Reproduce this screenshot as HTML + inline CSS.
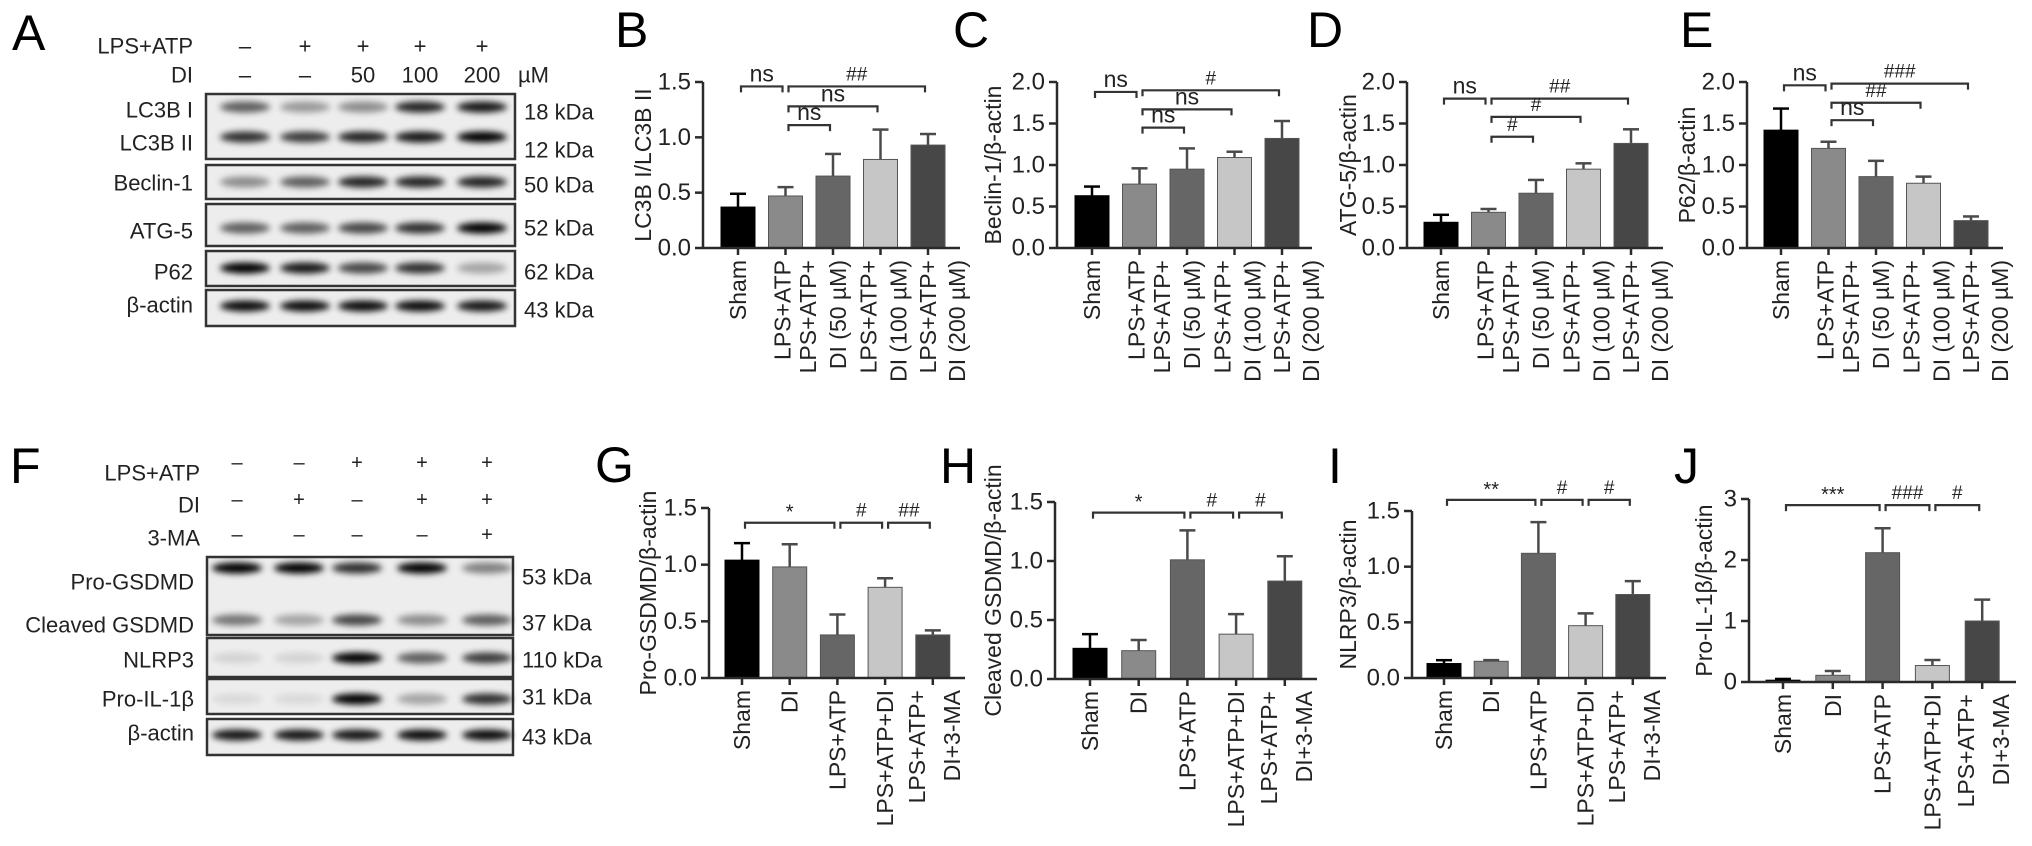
<!DOCTYPE html>
<html><head><meta charset="utf-8"><style>
html,body{margin:0;padding:0;background:#fff;}
svg{display:block;font-family:"Liberation Sans",Arial,sans-serif;}
</style></head><body>
<svg id="fig" width="2032" height="846" viewBox="0 0 2032 846" xmlns="http://www.w3.org/2000/svg">
<defs><filter id="blur" x="-30%" y="-100%" width="160%" height="300%"><feGaussianBlur stdDeviation="3.2"/></filter></defs>
</svg>
<script>
// ---- data ----
const catTop = [["Sham"],["LPS+ATP"],["LPS+ATP+","DI (50 µM)"],["LPS+ATP+","DI (100 µM)"],["LPS+ATP+","DI (200 µM)"]];
const catBottom = [["Sham"],["DI"],["LPS+ATP"],["LPS+ATP+DI"],["LPS+ATP+","DI+3-MA"]];
const barColors = ["#000000","#8a8a8a","#666666","#c6c6c6","#474747"];
const ticks15 = [0,0.5,1.0,1.5];
const ticks20 = [0,0.5,1.0,1.5,2.0];
const ticks3 = [0,1,2,3];
const bValues = [0.37,0.47,0.65,0.80,0.93];
const bErrors = [0.12,0.08,0.20,0.27,0.10];
const cValues = [0.63,0.77,0.95,1.09,1.32];
const cErrors = [0.11,0.19,0.25,0.07,0.21];
const dValues = [0.31,0.43,0.66,0.95,1.26];
const dErrors = [0.09,0.04,0.16,0.07,0.17];
const eValues = [1.42,1.20,0.86,0.78,0.33];
const eErrors = [0.26,0.08,0.19,0.08,0.05];
const gValues = [1.04,0.98,0.38,0.80,0.38];
const gErrors = [0.15,0.20,0.18,0.08,0.04];
const hValues = [0.26,0.24,1.01,0.38,0.83];
const hErrors = [0.12,0.09,0.25,0.17,0.21];
const iValues = [0.13,0.15,1.12,0.47,0.75];
const iErrors = [0.03,0.01,0.28,0.11,0.12];
const jValues = [0.03,0.11,2.12,0.27,1.00];
const jErrors = [0.02,0.07,0.40,0.09,0.35];
// brackets: [fromIndex, toIndex, level(value units), label]
const bBrackets = [[0,1,1.46,"ns"],[1,4,1.46,"##"],[1,3,1.28,"ns"],[1,2,1.11,"ns"]];
const cBrackets = [[0,1,1.88,"ns"],[1,4,1.90,"#"],[1,3,1.67,"ns"],[1,2,1.45,"ns"]];
const dBrackets = [[0,1,1.80,"ns"],[1,4,1.80,"##"],[1,3,1.58,"#"],[1,2,1.34,"#"]];
const eBrackets = [[0,1,1.96,"ns"],[1,4,1.98,"###"],[1,3,1.75,"##"],[1,2,1.54,"ns"]];
const gBrackets = [[0,2,1.37,"*"],[2,3,1.37,"#"],[3,4,1.37,"##"]];
const hBrackets = [[0,2,1.41,"*"],[2,3,1.41,"#"],[3,4,1.41,"#"]];
const iBrackets = [[0,2,1.60,"**"],[2,3,1.60,"#"],[3,4,1.60,"#"]];
const jBrackets = [[0,2,2.90,"***"],[2,3,2.90,"###"],[3,4,2.90,"#"]];
// blot band intensities (per lane)
const aBands = [[0.6,0.35,0.4,0.85,0.9],[0.8,0.75,0.85,0.9,1.0],[0.4,0.6,0.85,0.85,0.85],[0.6,0.6,0.7,0.8,1.0],[1.0,0.9,0.7,0.8,0.3],[0.95,0.95,0.95,0.95,0.9]];
const aKda = ["18 kDa","12 kDa","50 kDa","52 kDa","62 kDa","43 kDa"];
const fBands = [[1.0,1.0,0.8,1.0,0.45],[0.5,0.3,0.7,0.4,0.6],[0.1,0.1,1.0,0.6,0.75],[0.08,0.08,1.0,0.3,0.8],[0.9,0.9,0.9,0.95,0.95]];
const fKda = ["53 kDa","37 kDa","110 kDa","31 kDa","43 kDa"];

// label line offsets (layout)
const topLabelOffsets = [[0],[-3],[-25,5],[-12,18],[0,29]];
const bottomLabelOffsets = [[0],[0],[0],[0],[-16,19]];

// ---- helpers ----
const svg = document.getElementById('fig');
const NS = 'http://www.w3.org/2000/svg';
function mk(tag, attrs, parent){
  const e = document.createElementNS(NS, tag);
  for (const k in attrs) e.setAttribute(k, attrs[k]);
  (parent||svg).appendChild(e);
  return e;
}
function txt(s, attrs, parent){ const t = mk('text', attrs, parent); t.textContent = s; return t; }
const INK = '#2a2a2a';

function panelLetter(ch, x, y){
  const t = txt(ch, {x:x, y:y, 'font-size':50, fill:'#000'});
  
  
}

function chart(id, cfg, cats, values, errors, brackets, ticks){
  const g = mk('g', {});
  
  
  const maxV = ticks[ticks.length-1];
  const y = v => cfg.y0 - (v/maxV)*(cfg.y0-cfg.yTop);
  const xc = i => cfg.x0 + i*cfg.step;
  values.forEach((v,i)=>{
    const top = y(v+errors[i]);
    const eb = mk('line', {x1:xc(i), x2:xc(i), y1:y(v), y2:top, stroke: i===0?'#000':'#4a4a4a', 'stroke-width':2.5}, g);
    
    
    const cap = mk('line', {x1:xc(i)-8, x2:xc(i)+8, y1:top, y2:top, stroke: i===0?'#000':'#4a4a4a', 'stroke-width':2.5}, g);
    
    
    const r = mk('rect', {x:xc(i)-17, y:y(v), width:34, height:cfg.y0-y(v), fill:barColors[i], stroke:i===0?'#000':'#555', 'stroke-width':1}, g);
    
    
  });
  const ya = mk('line', {x1:cfg.ax, x2:cfg.ax, y1:cfg.yTop, y2:cfg.y0, stroke:INK, 'stroke-width':2.5}, g);
  
  
  ticks.forEach(t=>{
    mk('line', {x1:cfg.ax-8, x2:cfg.ax, y1:y(t), y2:y(t), stroke:INK, 'stroke-width':2.5}, g);
    const tl = txt(cfg.dec ? t.toFixed(1) : String(t), {x:cfg.ax-12, y:y(t), 'text-anchor':'end', 'dominant-baseline':'central', 'font-size':24, fill:'#222'}, g);
    
    
  });
  const xa = mk('line', {x1:cfg.ax, x2:cfg.xEnd, y1:cfg.y0, y2:cfg.y0, stroke:INK, 'stroke-width':2.5}, g);
  
  
  cats.forEach((c,i)=>{
    mk('line', {x1:xc(i), x2:xc(i), y1:cfg.y0, y2:cfg.y0+7, stroke:INK, 'stroke-width':2.5}, g);
    const offs = cfg.offs[i];
    c.forEach((line,k)=>{
      const lx = xc(i)+offs[k], ly = cfg.y0+12;
      const t = txt(line, {x:lx, y:ly, 'text-anchor':'end', 'dominant-baseline':'central', 'font-size':23, fill:'#222', transform:`rotate(-90 ${lx} ${ly})`}, g);
      
      
    });
  });
  const my = (cfg.y0+cfg.yTop)/2;
  const yt = txt(cfg.title, {x:cfg.tx, y:my, 'text-anchor':'middle', 'dominant-baseline':'central', 'font-size':23, fill:'#222', transform:`rotate(-90 ${cfg.tx} ${my})`}, g);
  
  
  brackets.forEach(b=>{
    const x1 = xc(b[0])+3, x2 = xc(b[1])-3, by = y(b[2]);
    const p = mk('path', {d:`M${x1},${by+6} L${x1},${by} L${x2},${by} L${x2},${by+6}`, fill:'none', stroke:'#333', 'stroke-width':2.2}, g);
    
    
    const isNs = b[3]==='ns';
    const lab = txt(b[3], {x:(x1+x2)/2, y: isNs ? by-5 : (b[3][0]==='*' ? by-4 : by-6), 'text-anchor':'middle', 'font-size': isNs?23:(b[3][0]==='*'?20:19), fill:'#222'}, g);
    
    
  });
}

function blot(id, lanes, boxes, labels, bandY, bands, kda, kdaY, bx1, bx2){
  const g = mk('g', {});
  
  
  boxes.forEach(b=>{
    const r = mk('rect', {x:bx1, y:b[0], width:bx2-bx1, height:b[1]-b[0], fill:'#ededed', stroke:'#333', 'stroke-width':2.5}, g);
    
    
  });
  bands.forEach((row,ri)=>{
    row.forEach((v,li)=>{
      const e = mk('ellipse', {cx:lanes[li], cy:bandY[ri], rx:25, ry:5.5, fill:'#000', opacity:v, filter:'url(#blur)'}, g);
      
      
    });
  });
  labels.forEach(l=>{
    const t = txt(l.text, {x:bx1-13, y:l.y, 'text-anchor':'end', 'dominant-baseline':'central', 'font-size':22, fill:'#222'}, g);
    
    
  });
  kda.forEach((k,i)=>{
    const t = txt(k, {x:bx2+9, y:kdaY[i], 'dominant-baseline':'central', 'font-size':22, fill:'#222'}, g);
    
    
  });
}

// ---- panel A ----
panelLetter('A', 12, 50);
const aLanes = [245,305,363,420,482];
[["LPS+ATP",46],["DI",75]].forEach(r=>{
  const t = txt(r[0], {x:193, y:r[1], 'text-anchor':'end', 'dominant-baseline':'central', 'font-size':22, fill:'#222'});
  
  
});
[["–","+","+","+","+"],["–","–","50","100","200"]].forEach((row,ri)=>{
  row.forEach((s,i)=>{
    const t = txt(s, {x:aLanes[i], y:[46,75][ri], 'text-anchor':'middle', 'dominant-baseline':'central', 'font-size':22, fill:'#222'});
    
    
  });
});
const um = txt('µM', {x:518, y:75, 'dominant-baseline':'central', 'font-size':22, fill:'#222'});


blot('a', aLanes, [[94,159],[165,199],[204,246],[251,286],[290,326]],
  [{text:"LC3B I",y:110},{text:"LC3B II",y:143},{text:"Beclin-1",y:183},{text:"ATG-5",y:231},{text:"P62",y:272},{text:"β-actin",y:305}],
  [107,137,182,228,268,306], aBands, aKda, [112,150,185,228,272,310], 206, 515);

// ---- panel F ----
panelLetter('F', 10, 483);
const fLanes = [237,299,357,422,487];
[["LPS+ATP",473],["DI",505],["3-MA",538]].forEach(r=>{
  const t = txt(r[0], {x:200, y:r[1], 'text-anchor':'end', 'dominant-baseline':'central', 'font-size':22, fill:'#222'});
  
  
});
[["–","–","+","+","+"],["–","+","–","+","+"],["–","–","–","–","+"]].forEach((row,ri)=>{
  row.forEach((s,i)=>{
    const t = txt(s, {x:fLanes[i], y:[463,500,535][ri], 'text-anchor':'middle', 'dominant-baseline':'central', 'font-size':20, fill:'#222'});
    
    
  });
});
blot('f', fLanes, [[557,635],[638,677],[679,714],[719,755]],
  [{text:"Pro-GSDMD",y:582},{text:"Cleaved GSDMD",y:625},{text:"NLRP3",y:660},{text:"Pro-IL-1β",y:699},{text:"β-actin",y:733}],
  [568,620,658,699,735], fBands, fKda, [577,623,660,697,737], 207, 513);

// ---- charts ----
panelLetter('B', 615, 47);
chart('b', {ax:703,y0:248,yTop:82,x0:738,step:47.5,xEnd:960,tx:643,dec:true,offs:topLabelOffsets,title:"LC3B I/LC3B II"}, catTop, bValues, bErrors, bBrackets, ticks15);
panelLetter('C', 953, 47);
chart('c', {ax:1057,y0:248,yTop:82,x0:1092,step:47.5,xEnd:1312,tx:993,dec:true,offs:topLabelOffsets,title:"Beclin-1/β-actin"}, catTop, cValues, cErrors, cBrackets, ticks20);
panelLetter('D', 1307, 47);
chart('d', {ax:1407,y0:248,yTop:82,x0:1441,step:47.5,xEnd:1663,tx:1348,dec:true,offs:topLabelOffsets,title:"ATG-5/β-actin"}, catTop, dValues, dErrors, dBrackets, ticks20);
panelLetter('E', 1680, 47);
chart('e', {ax:1747,y0:248,yTop:82,x0:1781,step:47.5,xEnd:2003,tx:1687,dec:true,offs:topLabelOffsets,title:"P62/β-actin"}, catTop, eValues, eErrors, eBrackets, ticks20);

panelLetter('G', 595, 482);
chart('g', {ax:709,y0:678,yTop:508,x0:742,step:47.7,xEnd:965,tx:648,dec:true,offs:bottomLabelOffsets,title:"Pro-GSDMD/β-actin"}, catBottom, gValues, gErrors, gBrackets, ticks15);
panelLetter('H', 940, 483);
chart('h', {ax:1055,y0:679,yTop:502,x0:1090,step:48.7,xEnd:1317,tx:993,dec:true,offs:bottomLabelOffsets,title:"Cleaved GSDMD/β-actin"}, catBottom, hValues, hErrors, hBrackets, ticks15);
panelLetter('I', 1328, 483);
chart('i', {ax:1412,y0:678,yTop:511,x0:1444,step:47.2,xEnd:1666,tx:1348,dec:true,offs:bottomLabelOffsets,title:"NLRP3/β-actin"}, catBottom, iValues, iErrors, iBrackets, ticks15);
panelLetter('J', 1674, 483);
chart('j', {ax:1749,y0:682,yTop:499,x0:1783,step:49.8,xEnd:2016,tx:1704,dec:false,offs:bottomLabelOffsets,title:"Pro-IL-1β/β-actin"}, catBottom, jValues, jErrors, jBrackets, ticks3);
</script>
</body></html>
